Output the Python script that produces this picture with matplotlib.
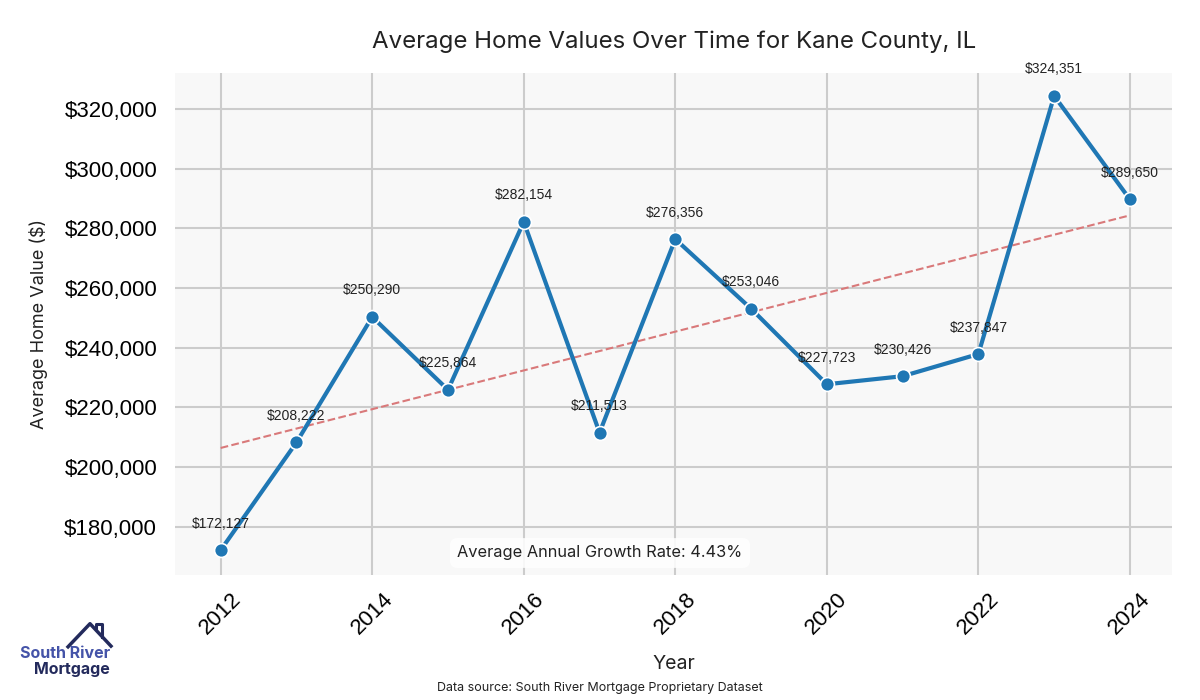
import matplotlib
matplotlib.use('Agg')
import matplotlib.pyplot as plt
from matplotlib.ticker import FuncFormatter
from matplotlib.lines import Line2D
import numpy as np

# data
years = [2012, 2013, 2014, 2015, 2016, 2017, 2018, 2019, 2020, 2021, 2022, 2023, 2024]
values = [172127, 208222, 250290, 225864, 282154, 211513, 276356,
          253046, 227723, 230426, 237847, 324351, 289650]
growth_label = 'Average Annual Growth Rate: 4.43%'
title = 'Average Home Values Over Time for Kane County, IL'
source = 'Data source: South River Mortgage Proprietary Dataset'

head_font = 'Inter'
num_font = 'Liberation Sans'

fig = plt.figure(figsize=(12, 7), dpi=100, facecolor='white')
ax = fig.add_axes([0.146, 0.179, 0.831, 0.717])
ax.set_facecolor('#f8f8f8')

ax.plot(years, values, color='#1f77b4', linewidth=3, marker='o', markersize=10,
        markeredgecolor='white', markeredgewidth=1.2, zorder=3)

# linear trend
coef = np.polyfit(years, values, 1)
trend = np.polyval(coef, years)
ax.plot(years, trend, linestyle='--', color='#d9797a', linewidth=1.5, zorder=2)

for x, y in zip(years, values):
    ax.annotate('${:,.0f}'.format(y), (x, y), xytext=(0, 14), textcoords='offset points',
                ha='center', va='bottom', fontsize=10, family=num_font, color='#222222')

ax.grid(True, color='#cccccc', linewidth=1.5)
ax.set_axisbelow(True)
for s in ax.spines.values():
    s.set_visible(False)
ax.tick_params(length=0, labelsize=16)
ax.tick_params(axis='y', pad=13)
ax.tick_params(axis='x', pad=10)
ax.set_xticks([2012, 2014, 2016, 2018, 2020, 2022, 2024])
ax.set_yticks(range(180000, 330000, 20000))
ax.yaxis.set_major_formatter(FuncFormatter(lambda v, p: '${:,.0f}'.format(v)))
for lab in ax.get_xticklabels():
    lab.set_rotation(45)
    lab.set_family(num_font)
for lab in ax.get_yticklabels():
    lab.set_family(num_font)
ax.set_xlim(2011.4, 2024.56)
ax.set_ylim(163900, 332100)

ax.set_xlabel('Year', fontsize=14, family=head_font, color='#222222', labelpad=12)
ax.set_ylabel('Average Home Value ($)', fontsize=13, family=head_font, color='#222222', labelpad=12)
ax.set_title(title, fontsize=17.3, family=head_font, color='#222222', pad=18)

fig.text(0.5, 0.21, growth_label, ha='center', va='center', fontsize=11.8, family=head_font,
         color='#222222',
         bbox=dict(boxstyle='round,pad=0.45', facecolor='white', edgecolor='none', alpha=0.85))

fig.text(0.5, 0.017, source, ha='center', va='center', fontsize=9, family=head_font, color='#222222')

# logo
fig.text(0.0917, 0.067, 'South River', fontsize=11.5, fontweight='bold', family=head_font,
         color='#4453a8', ha='right', va='center')
fig.text(0.0917, 0.044, 'Mortgage', fontsize=11.5, fontweight='bold', family=head_font,
         color='#232a5c', ha='right', va='center')
fig.add_artist(Line2D([0.0567, 0.075, 0.0925], [0.076, 0.109, 0.077],
                      color='#232a5c', linewidth=2.5, transform=fig.transFigure))
fig.add_artist(Line2D([0.080, 0.080, 0.085, 0.085], [0.101, 0.109, 0.109, 0.090],
                      color='#232a5c', linewidth=2.2, transform=fig.transFigure))

fig.savefig('out.png', dpi=100)
